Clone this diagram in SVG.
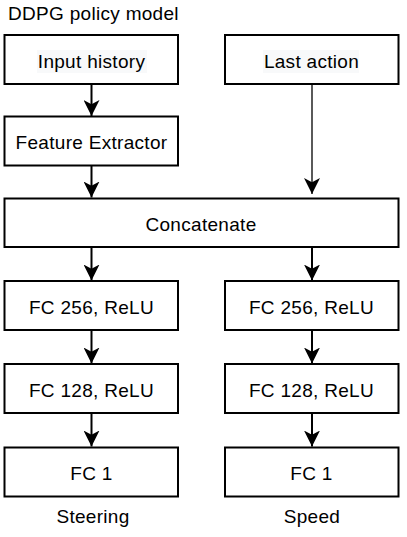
<svg xmlns="http://www.w3.org/2000/svg" width="407" height="537" viewBox="0 0 407 537">
<style>
.box{fill:#fff;stroke:#000;stroke-width:2}
.t{font-family:"Liberation Sans",Arial,sans-serif;font-size:19px;letter-spacing:0.3px;fill:#000;text-anchor:middle}
.lbg{fill:#f8f9fa}
.c{stroke:#000;stroke-width:2;fill:none}
.thin{stroke:#000;stroke-width:1.3;fill:none}
</style>
<defs>
<marker id="ah" markerUnits="userSpaceOnUse" markerWidth="16" markerHeight="16" viewBox="0 0 15 15" refX="15" refY="7.5" orient="auto">
<path d="M0,0 L15,7.5 L0,15 L4,7.5 Z" fill="#000"/>
</marker>
</defs>
<rect width="407" height="537" fill="#fff"/>
<text class="t" x="8" y="20" style="text-anchor:start">DDPG policy model</text>
<g id="connectors">
<line class="c" x1="91.5" y1="84" x2="91.5" y2="116" marker-end="url(#ah)"/>
<line class="c" x1="91.5" y1="165.5" x2="91.5" y2="197.5" marker-end="url(#ah)"/>
<line class="thin" x1="312" y1="84" x2="312" y2="194" marker-end="url(#ah)"/>
<line class="c" x1="91.5" y1="247" x2="91.5" y2="280.5" marker-end="url(#ah)"/>
<line class="c" x1="312" y1="247" x2="312" y2="280.5" marker-end="url(#ah)"/>
<line class="c" x1="91.5" y1="330" x2="91.5" y2="363.5" marker-end="url(#ah)"/>
<line class="c" x1="312" y1="330" x2="312" y2="363.5" marker-end="url(#ah)"/>
<line class="c" x1="91.5" y1="413" x2="91.5" y2="446.5" marker-end="url(#ah)"/>
<line class="c" x1="312" y1="413" x2="312" y2="446.5" marker-end="url(#ah)"/>
</g>
<g id="input-history">
<rect class="box" x="4.5" y="35" width="173.5" height="49"/>
<rect class="lbg" x="37" y="50" width="110" height="23"/>
<text class="t" x="91.5" y="67.5">Input history</text>
</g>
<g id="last-action">
<rect class="box" x="225" y="35" width="173.5" height="49"/>
<rect class="lbg" x="263" y="50" width="96" height="23"/>
<text class="t" x="311.5" y="67.5">Last action</text>
</g>
<g id="feature-extractor">
<rect class="box" x="4.5" y="116.5" width="173.5" height="49"/>
<text class="t" x="91.5" y="149">Feature Extractor</text>
</g>
<g id="concatenate">
<rect class="box" x="4.5" y="198.5" width="394" height="48.5"/>
<text class="t" x="201" y="230.5">Concatenate</text>
</g>
<g id="fc256-left">
<rect class="box" x="4.5" y="281" width="173.5" height="49"/>
<text class="t" x="91.5" y="313.5">FC 256, ReLU</text>
</g>
<g id="fc256-right">
<rect class="box" x="225" y="281" width="173.5" height="49"/>
<text class="t" x="311.5" y="313.5">FC 256, ReLU</text>
</g>
<g id="fc128-left">
<rect class="box" x="4.5" y="364" width="173.5" height="49"/>
<text class="t" x="91.5" y="396.5">FC 128, ReLU</text>
</g>
<g id="fc128-right">
<rect class="box" x="225" y="364" width="173.5" height="49"/>
<text class="t" x="311.5" y="396.5">FC 128, ReLU</text>
</g>
<g id="fc1-left">
<rect class="box" x="4.5" y="447.5" width="173.5" height="49"/>
<text class="t" x="91.5" y="480">FC 1</text>
</g>
<g id="fc1-right">
<rect class="box" x="225" y="447.5" width="173.5" height="49"/>
<text class="t" x="311.5" y="480">FC 1</text>
</g>
<text class="t" x="93" y="523">Steering</text>
<text class="t" x="312" y="523">Speed</text>
</svg>
